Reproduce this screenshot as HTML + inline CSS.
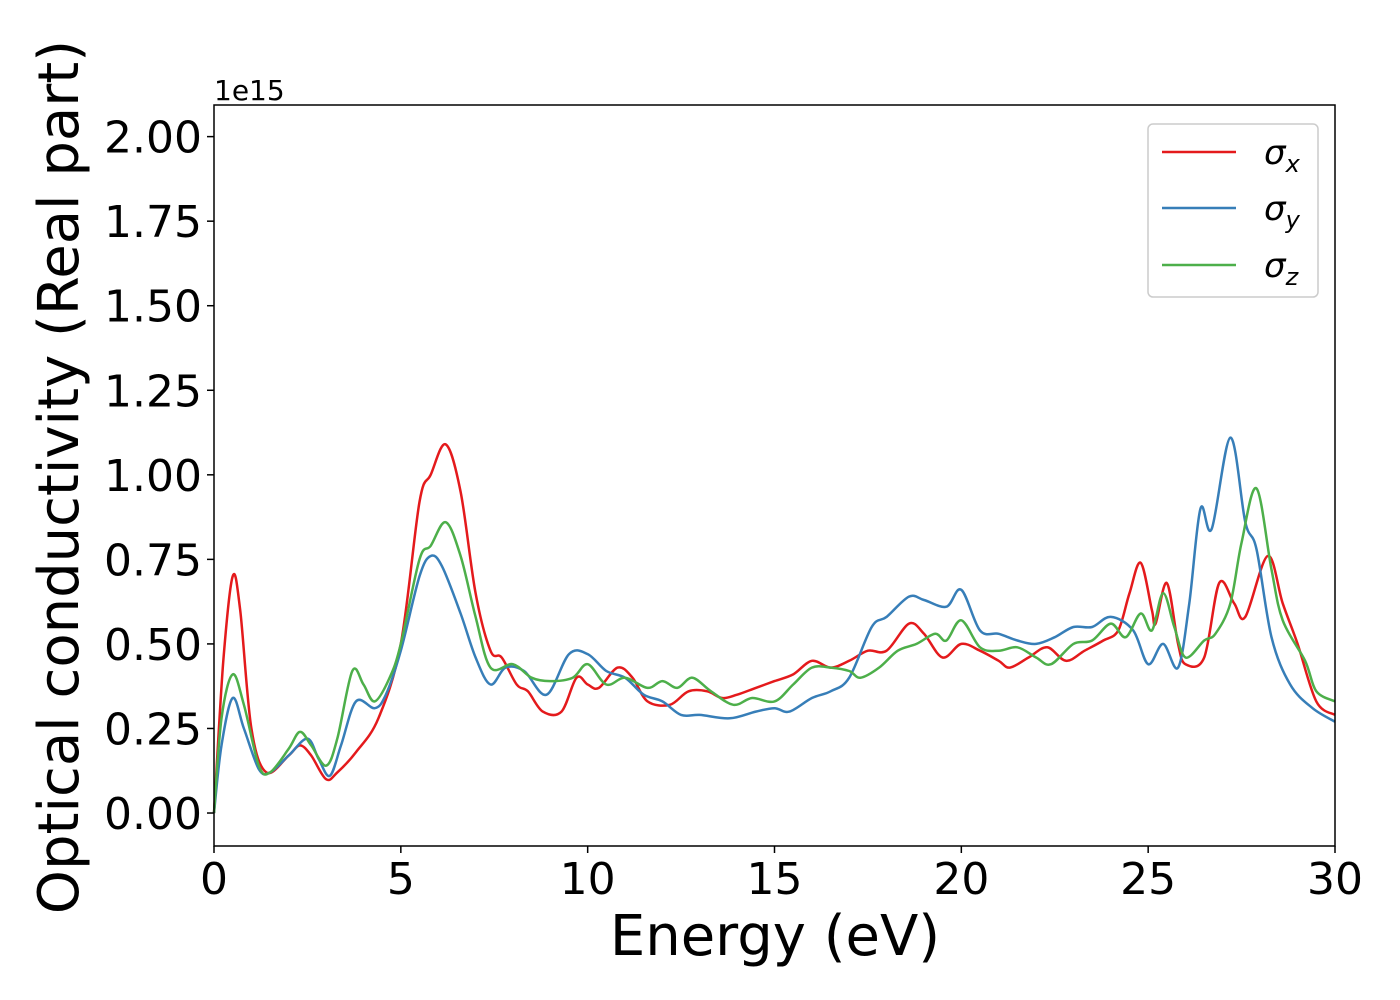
<!DOCTYPE html>
<html><head><meta charset="utf-8"><style>
html,body{margin:0;padding:0;background:#fff;}
svg{display:block;font-family:"DejaVu Sans","Liberation Sans",sans-serif;}
</style></head><body>
<svg id="chart" width="1400" height="1000">
<rect x="0" y="0" width="1400" height="1000" fill="#fff"/>
<g id="plot"></g>
<g id="axes"></g>
<text x="214" y="100" font-size="28" fill="#000">1e15</text>
<text x="775" y="955" font-size="56" text-anchor="middle" fill="#000">Energy (eV)</text>
<text transform="translate(78,477) rotate(-90)" font-size="56" text-anchor="middle" fill="#000">Optical conductivity (Real part)</text>
<g>
<rect x="1148" y="124" width="170" height="173" rx="5" fill="#fff" stroke="#ccc" stroke-width="1.5"/>
<line x1="1162" y1="152" x2="1236" y2="152" stroke="#e41a1c" stroke-width="2.5"/>
<text x="1264" y="164" font-size="34" font-style="italic">σ<tspan font-size="24" dy="8">x</tspan></text>
<line x1="1162" y1="208" x2="1236" y2="208" stroke="#377eb8" stroke-width="2.5"/>
<text x="1264" y="220" font-size="34" font-style="italic">σ<tspan font-size="24" dy="8">y</tspan></text>
<line x1="1162" y1="265" x2="1236" y2="265" stroke="#4daf4a" stroke-width="2.5"/>
<text x="1264" y="277" font-size="34" font-style="italic">σ<tspan font-size="24" dy="8">z</tspan></text>
</g>
</svg>
<script>
const xTicks=[0,5,10,15,20,25,30];
const yTicks=[0,0.25,0.5,0.75,1.0,1.25,1.5,1.75,2.0];
const yTickLabels=["0.00","0.25","0.50","0.75","1.00","1.25","1.50","1.75","2.00"];
const sigmaXE=[0,0.25,0.5,0.7,1.0,1.4,2.0,2.3,2.6,3.0,3.3,3.8,4.4,5.0,5.5,5.8,6.2,6.6,7.0,7.4,7.7,8.1,8.4,8.8,9.3,9.7,10.0,10.3,10.8,11.2,11.6,12.2,12.7,13.2,13.6,14.0,14.5,15.0,15.5,16.0,16.5,17.0,17.5,18.0,18.6,19.0,19.5,20.0,20.5,21.0,21.3,21.8,22.3,22.8,23.3,23.8,24.2,24.5,24.8,25.1,25.2,25.5,25.8,26.0,26.5,26.9,27.3,27.6,28.2,28.6,29.0,29.5,30];
const sigmaX=[0,0.45,0.70,0.6,0.25,0.12,0.17,0.2,0.17,0.10,0.12,0.18,0.28,0.50,0.92,1.0,1.09,0.95,0.65,0.48,0.46,0.38,0.36,0.30,0.30,0.40,0.38,0.37,0.43,0.40,0.33,0.32,0.36,0.36,0.34,0.35,0.37,0.39,0.41,0.45,0.43,0.45,0.48,0.48,0.56,0.53,0.46,0.50,0.48,0.45,0.43,0.46,0.49,0.45,0.48,0.51,0.54,0.65,0.74,0.60,0.56,0.68,0.50,0.44,0.46,0.68,0.62,0.58,0.76,0.62,0.50,0.33,0.29];
const sigmaYE=[0,0.2,0.5,0.8,1.2,1.5,2.0,2.5,2.8,3.1,3.4,3.8,4.3,4.6,5.0,5.5,5.8,6.1,6.6,7.0,7.4,7.8,8.3,8.9,9.5,10.0,10.5,11.0,11.5,12.0,12.5,13.0,13.8,14.5,15.0,15.4,16.0,16.5,17.0,17.6,18.0,18.6,19.0,19.6,20.0,20.5,21.0,21.5,22.0,22.5,23.0,23.5,24.0,24.6,25.0,25.4,25.8,26.1,26.4,26.7,27.2,27.6,27.9,28.3,28.8,29.4,30];
const sigmaY=[0,0.2,0.34,0.25,0.13,0.12,0.17,0.22,0.16,0.11,0.20,0.33,0.31,0.35,0.48,0.70,0.76,0.73,0.59,0.46,0.38,0.43,0.42,0.35,0.47,0.47,0.42,0.40,0.35,0.33,0.29,0.29,0.28,0.30,0.31,0.30,0.34,0.36,0.40,0.55,0.58,0.64,0.63,0.61,0.66,0.54,0.53,0.51,0.50,0.52,0.55,0.55,0.58,0.54,0.44,0.50,0.43,0.62,0.90,0.84,1.11,0.86,0.78,0.52,0.38,0.31,0.27];
const sigmaZE=[0,0.2,0.5,0.8,1.2,1.5,2.0,2.3,2.6,3.0,3.3,3.7,4.0,4.3,4.7,5.0,5.5,5.8,6.2,6.6,7.0,7.4,8.0,8.5,9.0,9.6,10.0,10.5,11.0,11.6,12.0,12.4,12.8,13.3,13.9,14.4,15.0,15.5,16.0,16.5,17.0,17.3,17.8,18.3,18.8,19.3,19.6,20.0,20.5,21.0,21.5,22.0,22.4,23.0,23.5,24.0,24.4,24.8,25.1,25.4,25.7,26.0,26.5,26.8,27.2,27.5,27.9,28.3,28.6,29.2,29.5,30];
const sigmaZ=[0,0.28,0.41,0.32,0.14,0.12,0.19,0.24,0.20,0.14,0.22,0.42,0.38,0.33,0.40,0.50,0.75,0.79,0.86,0.76,0.58,0.43,0.44,0.40,0.39,0.40,0.44,0.38,0.40,0.37,0.39,0.37,0.40,0.36,0.32,0.34,0.33,0.38,0.43,0.43,0.42,0.40,0.43,0.48,0.50,0.53,0.51,0.57,0.49,0.48,0.49,0.46,0.44,0.50,0.51,0.56,0.52,0.59,0.54,0.65,0.55,0.46,0.51,0.53,0.62,0.80,0.96,0.72,0.57,0.45,0.36,0.33];

const X0=214,X1=1335,Y0=105,Y1=846,YMIN=-0.0975,YMAX=2.0935;
const xs=v=>X0+(v-0)/(30-0)*(X1-X0);
const ys=v=>Y1-(v-YMIN)/(YMAX-YMIN)*(Y1-Y0);
const NS="http://www.w3.org/2000/svg";
const plot=document.getElementById('plot'),axes=document.getElementById('axes');
function pathFor(E,V){
  const p=E.map((e,i)=>[xs(e),ys(V[i])]);
  let d="M"+p[0][0].toFixed(1)+","+p[0][1].toFixed(1);
  for(let i=0;i<p.length-1;i++){
    const a=p[Math.max(0,i-1)],b=p[i],c=p[i+1],q=p[Math.min(p.length-1,i+2)];
    const c1=[b[0]+(c[0]-a[0])/6,b[1]+(c[1]-a[1])/6],c2=[c[0]-(q[0]-b[0])/6,c[1]-(q[1]-b[1])/6];
    d+="C"+c1.map(v=>v.toFixed(1))+" "+c2.map(v=>v.toFixed(1))+" "+c[0].toFixed(1)+","+c[1].toFixed(1);
  }
  return d;
}
[[sigmaXE,sigmaX,'#e41a1c','series-sigma-x'],[sigmaYE,sigmaY,'#377eb8','series-sigma-y'],[sigmaZE,sigmaZ,'#4daf4a','series-sigma-z']].forEach(s=>{
  const el=document.createElementNS(NS,'path');
  el.setAttribute('d',pathFor(s[0],s[1]));
  el.setAttribute('fill','none');el.setAttribute('stroke',s[2]);el.setAttribute('stroke-width','2.5');
  
  
  plot.appendChild(el);
});
const frame=document.createElementNS(NS,'rect');
frame.setAttribute('x',X0);frame.setAttribute('y',Y0);frame.setAttribute('width',X1-X0);frame.setAttribute('height',Y1-Y0);
frame.setAttribute('fill','none');frame.setAttribute('stroke','#000');frame.setAttribute('stroke-width','1.5');


axes.appendChild(frame);
xTicks.forEach(t=>{
  const l=document.createElementNS(NS,'line');
  l.setAttribute('x1',xs(t));l.setAttribute('x2',xs(t));l.setAttribute('y1',Y1);l.setAttribute('y2',Y1+7);l.setAttribute('stroke','#000');l.setAttribute('stroke-width','1.5');
  
  
  axes.appendChild(l);
  const tx=document.createElementNS(NS,'text');
  tx.setAttribute('x',xs(t));tx.setAttribute('y',Y1+48);tx.setAttribute('font-size','44');tx.setAttribute('text-anchor','middle');
  tx.textContent=String(t);
  
  
  axes.appendChild(tx);
});
yTicks.forEach((t,i)=>{
  const l=document.createElementNS(NS,'line');
  l.setAttribute('x1',X0-7);l.setAttribute('x2',X0);l.setAttribute('y1',ys(t));l.setAttribute('y2',ys(t));l.setAttribute('stroke','#000');l.setAttribute('stroke-width','1.5');
  
  
  axes.appendChild(l);
  const tx=document.createElementNS(NS,'text');
  tx.setAttribute('x',X0-12);tx.setAttribute('y',ys(t)+16);tx.setAttribute('font-size','44');tx.setAttribute('text-anchor','end');
  tx.textContent=yTickLabels[i];
  
  
  axes.appendChild(tx);
});
</script>
</body></html>
